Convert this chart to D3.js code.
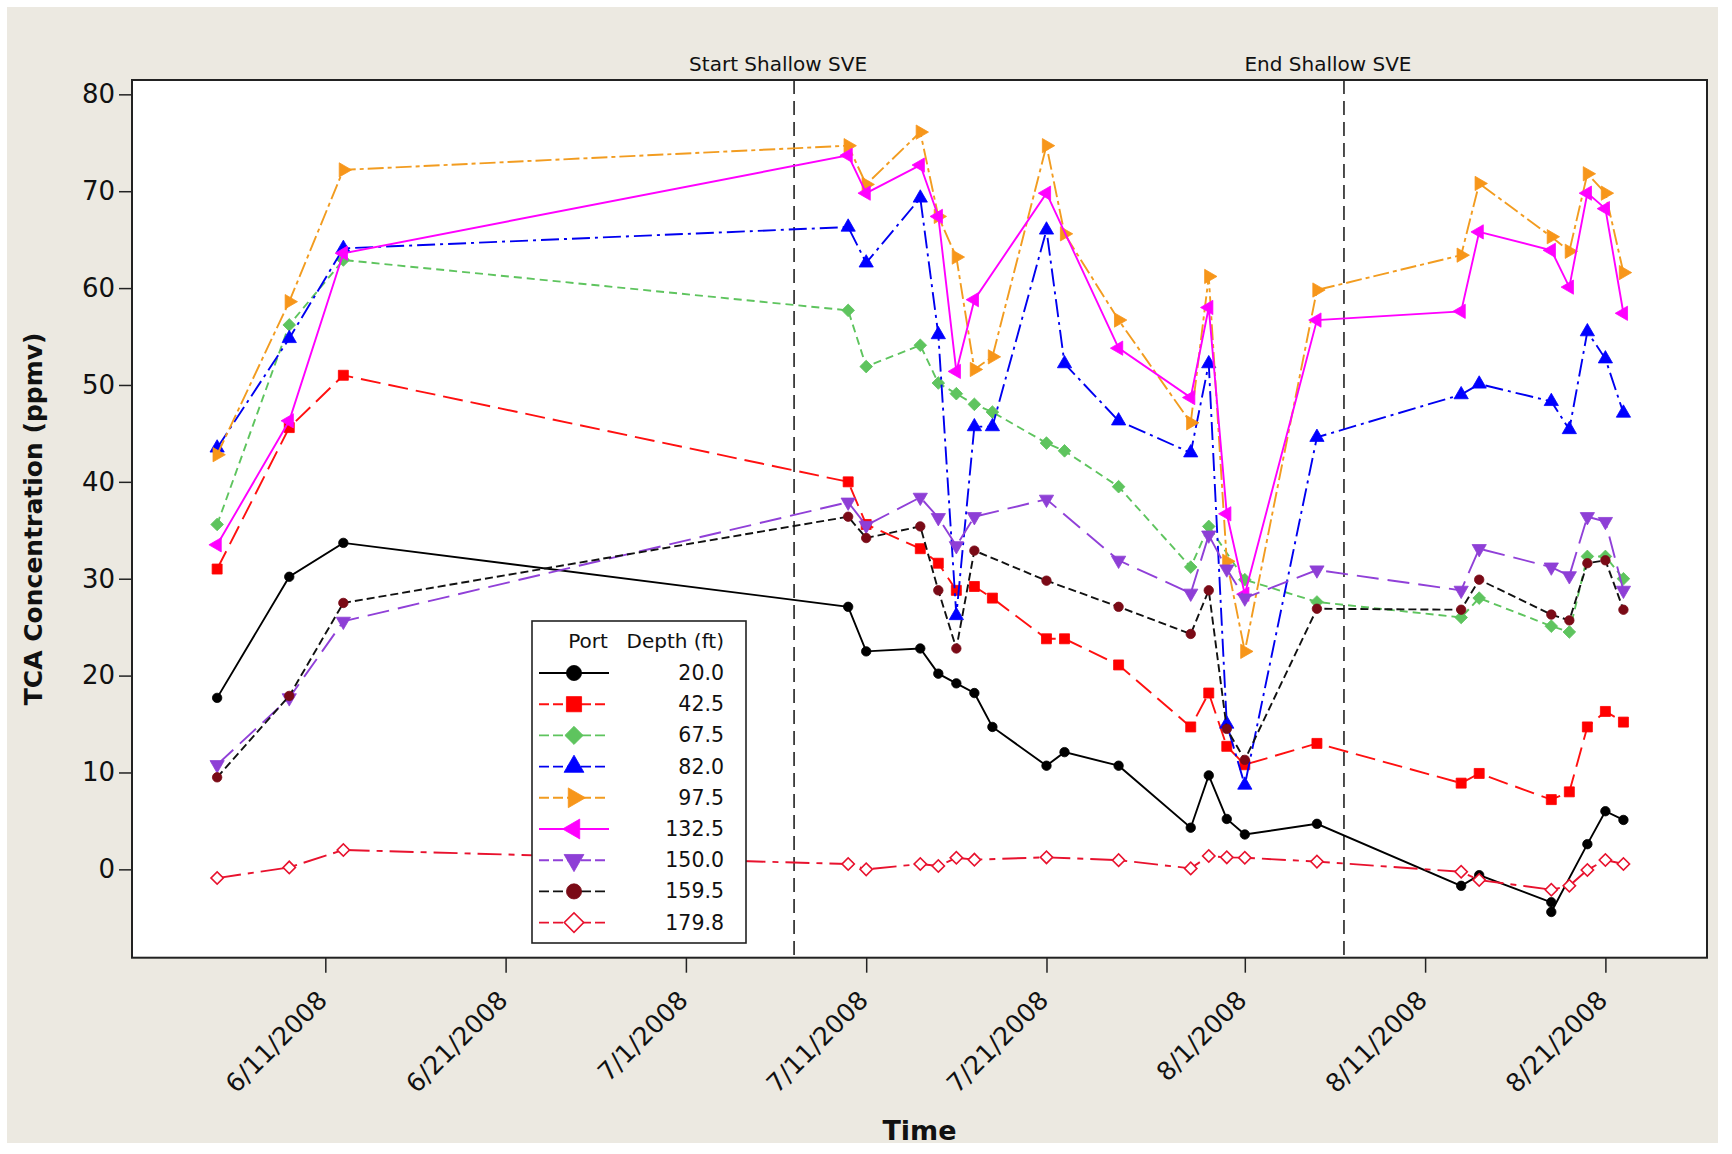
<!DOCTYPE html>
<html>
<head>
<meta charset="utf-8">
<script src="https://cdn.jsdelivr.net/npm/d3@7"></script>
<style>
  html, body { margin: 0; padding: 0; background: #ffffff; }
  svg { display: block; }
  text { font-family: "DejaVu Sans", "Noto Sans", sans-serif; fill: #111; }
</style>
</head>
<body>
<svg id="chart" width="1732" height="1154"></svg>
<script>
// ---------------- data ----------------
const dates = ["2008-06-05","2008-06-09","2008-06-12","2008-07-10","2008-07-11","2008-07-14","2008-07-15",
  "2008-07-16","2008-07-17","2008-07-18","2008-07-21","2008-07-22","2008-07-25","2008-07-29","2008-07-30",
  "2008-07-31","2008-08-01","2008-08-05","2008-08-13","2008-08-14","2008-08-18","2008-08-18","2008-08-19",
  "2008-08-20","2008-08-21","2008-08-22"];

const port20  = [17.7, 30.2, 33.7, 27.1, 22.5, 22.8, 20.2, 19.2, 18.2, 14.7, 10.7, 12.1, 10.7, 4.3, 9.7, 5.2, 3.6, 4.7, -1.7, -0.6, -3.4, -4.4, null, 2.6, 6.0, 5.1];
const port42  = [31.0, 45.6, 51.0, 40.0, 35.6, 33.1, 31.6, 28.8, 29.2, 28.0, 23.8, 23.8, 21.1, 14.7, 18.2, 12.7, 10.8, 13.0, 8.9, 9.9, 7.2, null, 8.0, 14.7, 16.3, 15.2];
const port67  = [35.6, 56.2, 62.9, 57.7, 51.9, 54.1, 50.2, 49.1, 48.0, 47.2, 44.0, 43.2, 39.5, 31.2, 35.4, null, 29.9, 27.6, 26.0, 28.0, 25.1, null, 24.5, 32.3, 32.3, 30.0];
const port82  = [43.5, 54.8, 64.1, 66.3, 62.6, 69.3, 55.2, 26.2, 45.7, 45.7, 66.0, 52.2, 46.3, 43.0, 52.2, 15.0, 8.7, 44.6, 49.0, 50.1, 48.3, null, 45.4, 55.5, 52.7, 47.1];
const port97  = [42.8, 58.6, 72.2, 74.7, 70.7, 76.1, 67.4, 63.2, 51.6, 52.9, 74.7, 65.6, 56.7, 46.1, 61.2, 31.8, 22.5, 59.8, 63.4, 70.8, 65.3, null, 63.8, 71.8, 69.8, 61.6];
const port132 = [33.5, 46.3, 63.6, 73.7, 69.8, 72.7, 67.4, 51.4, 58.8, null, 69.8, null, 53.8, 48.7, 58.0, 36.7, 28.4, 56.7, 57.6, 65.8, 63.9, null, 60.1, 69.8, 68.2, 57.4];
const port150 = [10.8, 17.7, 25.6, 37.9, 35.5, 38.4, 36.3, 33.4, 36.4, null, 38.2, null, 31.9, 28.5, 34.5, 31.0, 28.0, 30.9, 28.8, 33.1, 31.2, null, 30.3, 36.4, 35.9, 28.8];
const port159 = [9.5, 17.9, 27.5, 36.4, 34.2, 35.4, 28.8, 22.8, 32.9, null, 29.8, null, 27.1, 24.3, 28.8, 14.5, 11.3, 26.9, 26.8, 29.9, 26.3, null, 25.7, 31.6, 31.9, 26.8];
const port179 = [-0.9, 0.2, 2.0, 0.55, 0.0, 0.55, 0.34, 1.2, 1.0, null, 1.24, null, 0.95, 0.1, 1.37, 1.24, 1.2, 0.8, -0.25, -1.1, -2.1, null, -1.7, -0.07, 0.96, 0.55];

const portDepths = ["20.0","42.5","67.5","82.0","97.5","132.5","150.0","159.5","179.8"];
const seriesValues = [port20, port42, port67, port82, port97, port132, port150, port159, port179];

const yTickValues = [0, 10, 20, 30, 40, 50, 60, 70, 80];
const xTickDates = ["2008-06-11","2008-06-21","2008-07-01","2008-07-11","2008-07-21","2008-08-01","2008-08-11","2008-08-21"];
const xDomainDates = ["2008-05-31T06:40","2008-08-26T15:15"];
const yDomain = [-9.12, 81.48];

const refDates = ["2008-07-07T00:00","2008-08-06T12:00"];
const refLabels = ["Start Shallow SVE","End Shallow SVE"];

const xTitle = "Time";
const yTitle = "TCA Concentration (ppmv)";
const legendHeader = ["Port", "Depth (ft)"];

// ---------------- styles ----------------
const styles = [
  {color:"#000000", dash:null,          marker:"circle",  fill:"#000000", rot:0},
  {color:"#FF1010", dash:"20,8",        marker:"square",  fill:"#FF0000", rot:0},
  {color:"#5EC45E", dash:"8,5",         marker:"diamond", fill:"#5EC45E", rot:0},
  {color:"#0000F0", dash:"18,5,3,5",    marker:"tri",     fill:"#0000FF", rot:0},
  {color:"#F29C20", dash:"16,4,4,4",    marker:"tri",     fill:"#F7961A", rot:90},
  {color:"#FF00FF", dash:null,          marker:"tri",     fill:"#FF00FF", rot:-90},
  {color:"#9040D8", dash:"22,9",        marker:"tri",     fill:"#8E3FD6", rot:180},
  {color:"#111111", dash:"8,4",         marker:"circle",  fill:"#7A0A16", rot:0},
  {color:"#E8122E", dash:"24,7,6,7",    marker:"odiamond",fill:"#FFFFFF", rot:0}
];

// ---------------- layout ----------------
const W = 1732, H = 1154;
const plot = {left: 132, right: 1707, top: 80, bottom: 957.7};

const parseD = s => (s.length > 10 ? d3.utcParse("%Y-%m-%dT%H:%M") : d3.utcParse("%Y-%m-%d"))(s);

const svg = d3.select("#chart");

svg.append("rect").attr("x",0).attr("y",0).attr("width",W).attr("height",H).attr("fill","#ffffff");
svg.append("rect").attr("x",7).attr("y",7).attr("width",1711).attr("height",1136).attr("fill","#ECE9E1");
svg.append("rect").attr("x",plot.left).attr("y",plot.top)
  .attr("width",plot.right-plot.left).attr("height",plot.bottom-plot.top).attr("fill","#ffffff");

const x = d3.scaleUtc().domain(xDomainDates.map(parseD)).range([plot.left, plot.right]);
const y = d3.scaleLinear().domain(yDomain).range([plot.bottom, plot.top]);

// ---------------- axes ----------------
const yAxis = svg.append("g").attr("transform", `translate(${plot.left},0)`)
  .call(d3.axisLeft(y).tickValues(yTickValues).tickSize(13).tickPadding(4).tickFormat(d3.format("d")));
yAxis.select(".domain").remove();
yAxis.selectAll(".tick line").attr("stroke","#222").attr("stroke-width",1.5);
yAxis.selectAll(".tick text").attr("font-size",26).attr("font-family","DejaVu Sans, sans-serif").attr("fill","#111");

const fmt = d3.utcFormat("%-m/%-d/%Y");
const xAxis = svg.append("g").attr("transform", `translate(0,${plot.bottom})`)
  .call(d3.axisBottom(x).tickValues(xTickDates.map(parseD)).tickSize(15).tickFormat(fmt));
xAxis.select(".domain").remove();
xAxis.selectAll(".tick line").attr("stroke","#222").attr("stroke-width",1.5);
xAxis.selectAll(".tick text")
  .attr("font-size",25.5).attr("font-family","DejaVu Sans, sans-serif").attr("fill","#111")
  .attr("text-anchor","end").attr("dy",null).attr("y",null)
  .attr("transform","translate(3,44) rotate(-45)");

// axis titles
svg.append("text").attr("x",(plot.left+plot.right)/2).attr("y",1140)
  .attr("text-anchor","middle").attr("font-size",27).attr("font-weight","bold").text(xTitle);
svg.append("text").attr("transform",`translate(42,${(plot.top+plot.bottom)/2}) rotate(-90)`)
  .attr("text-anchor","middle").attr("font-size",25).attr("font-weight","bold").text(yTitle);

// ---------------- reference lines ----------------
refDates.forEach((d,i) => {
  const xx = x(parseD(d));
  svg.append("line").attr("x1",xx).attr("x2",xx).attr("y1",plot.top).attr("y2",plot.bottom)
    .attr("stroke","#222").attr("stroke-width",1.6).attr("stroke-dasharray","14,7");
  svg.append("text").attr("x",xx-16).attr("y",71).attr("text-anchor","middle")
    .attr("font-size",20).text(refLabels[i]);
});

// ---------------- markers ----------------
function symbolFor(st, big) {
  let type, size;
  switch (st.marker) {
    case "circle":  type = d3.symbolCircle;  size = big ? 180 : 70; break;
    case "square":  type = d3.symbolSquare;  size = big ? 230 : 100; break;
    case "diamond": type = d3.symbolSquare;  size = big ? 165 : 80; break;
    case "odiamond":type = d3.symbolSquare;  size = big ? 190 : 76; break;
    default:        type = d3.symbolTriangle;size = big ? 170 : 88;
  }
  return d3.symbol().type(type).size(size)();
}
function markerRot(st) {
  if (st.marker === "diamond" || st.marker === "odiamond") return 45;
  return st.rot;
}
function drawMarker(g, st, cx, cy, big) {
  g.append("path").attr("d", symbolFor(st, big))
    .attr("transform", `translate(${cx},${cy}) rotate(${markerRot(st)})`)
    .attr("fill", st.fill)
    .attr("stroke", st.marker === "odiamond" ? st.color : st.fill)
    .attr("stroke-width", st.marker === "odiamond" ? 1.6 : 0.8);
}

// ---------------- series ----------------
const line = d3.line().x(d => x(d.date)).y(d => y(d.value));
const seriesG = svg.append("g");
seriesValues.forEach((vals, i) => {
  const st = styles[i];
  const pts = vals.map((v, j) => ({date: parseD(dates[j]), value: v})).filter(p => p.value !== null);
  const g = seriesG.append("g");
  g.append("path").datum(pts).attr("d", line).attr("fill","none")
    .attr("stroke", st.color).attr("stroke-width", 1.9)
    .attr("stroke-dasharray", st.dash);
  pts.forEach(p => drawMarker(g, st, x(p.date), y(p.value), false));
});

// frame
svg.append("rect").attr("x",plot.left).attr("y",plot.top)
  .attr("width",plot.right-plot.left).attr("height",plot.bottom-plot.top)
  .attr("fill","none").attr("stroke","#222").attr("stroke-width",2);

// ---------------- legend ----------------
const lg = svg.append("g");
lg.append("rect").attr("x",532).attr("y",621).attr("width",214).attr("height",322)
  .attr("fill","#ffffff").attr("stroke","#222").attr("stroke-width",1.6);
lg.append("text").attr("x",588).attr("y",648).attr("text-anchor","middle").attr("font-size",20).text(legendHeader[0]);
lg.append("text").attr("x",724).attr("y",648).attr("text-anchor","end").attr("font-size",20).text(legendHeader[1]);
portDepths.forEach((p, i) => {
  const st = styles[i];
  const cy = 673 + i * 31.2;
  lg.append("line").attr("x1",539).attr("x2",609).attr("y1",cy).attr("y2",cy)
    .attr("stroke",st.color).attr("stroke-width",1.9).attr("stroke-dasharray", st.dash ? "10,4" : null);
  drawMarker(lg, st, 574, cy, true);
  lg.append("text").attr("x",724).attr("y",cy+7).attr("text-anchor","end").attr("font-size",20.5).text(p);
});
</script>
</body>
</html>
